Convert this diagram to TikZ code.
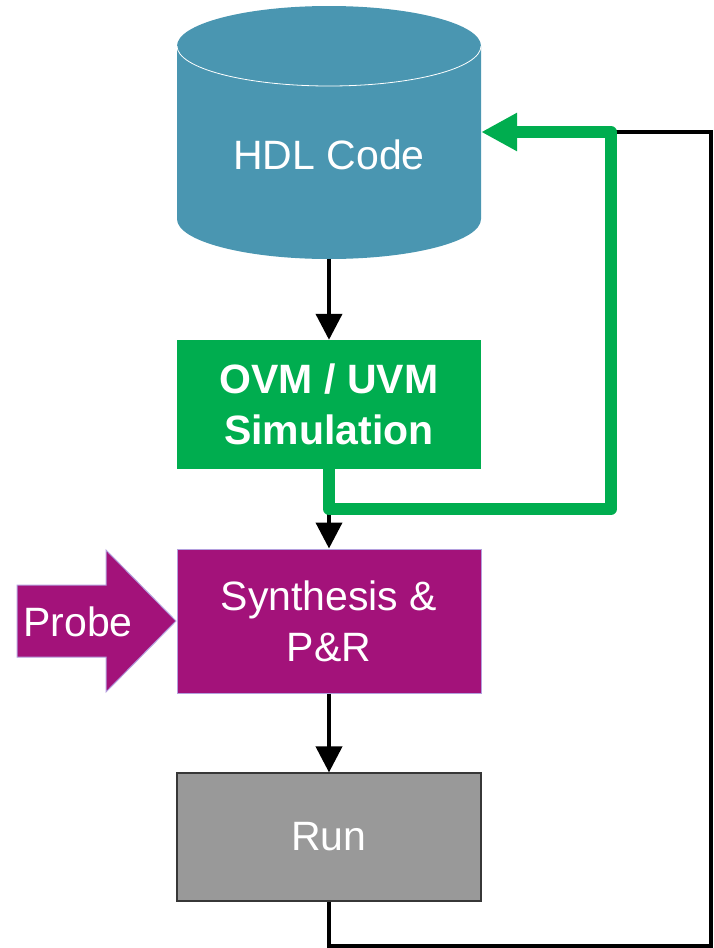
\documentclass[tikz,border=0pt]{standalone}
\usepackage{fontspec}
\setmainfont{Liberation Sans}
\usetikzlibrary{arrows.meta}

\definecolor{hdlblue}{RGB}{74,150,177}
\definecolor{simgreen}{RGB}{0,173,79}
\definecolor{synmagenta}{RGB}{163,18,122}
\definecolor{synedge}{RGB}{180,160,222}
\definecolor{rungray}{RGB}{153,153,153}
\definecolor{runedge}{RGB}{55,55,55}

\tikzset{
  stagebox/.style={minimum width=304pt, inner sep=0pt, align=center,
    font=\fontsize{41}{51}\selectfont, text=white},
  flow/.style={line width=4pt, black,
    -{Triangle[width=26pt,length=26pt]}},
  backloop/.style={line width=4pt, black},
  greenloop/.style={line width=12pt, simgreen, line join=round,
    -{Triangle[width=36pt,length=36pt]}},
}

\begin{document}
\begin{tikzpicture}[x=1pt, y=-1pt]
\useasboundingbox (0,0) rectangle (713,948);

% HDL code store: a cylinder
\node[minimum width=304pt, minimum height=253pt, inner sep=0pt] (hdl) at (329,132) {};
\fill[hdlblue] (177,46) -- (177,219)
  arc[start angle=180, end angle=360, x radius=152pt, y radius=40pt]
  -- (481,46)
  arc[start angle=0, end angle=180, x radius=152pt, y radius=40pt] -- cycle;
\draw[white, line width=0.8pt] (177,46)
  arc[start angle=180, end angle=360, x radius=152pt, y radius=40pt];
\node[stagebox, minimum width=0pt] (hdltext) at (329,155) {HDL Code};

% process stages
\node[stagebox, fill=simgreen, minimum height=129pt,
  font=\fontsize{41}{51}\selectfont\bfseries] (sim) at (329,404.5)
  {OVM / UVM\\Simulation};
\node[stagebox, fill=synmagenta, draw=synedge, line width=1pt,
  minimum height=144pt] (syn) at (329,621) {Synthesis \&\\P\&R};
\node[stagebox, fill=rungray, draw=runedge, line width=1.2pt,
  minimum height=128pt] (run) at (329,837) {Run};

% probe arrow feeding synthesis
\fill[synmagenta, draw=synedge, line width=1pt]
  (17,585) -- (106,585) -- (106,550) -- (176,621) -- (106,692)
  -- (106,657) -- (17,657) -- cycle;
\node[stagebox, minimum width=0pt] (probe) at (78,622) {Probe};

% forward flow
\draw[flow] (hdl.south) -- (sim.north);
\draw[flow] (sim.south) -- (syn.north);
\draw[flow] (syn.south) -- (run.north);

% return path from run
\coordinate (rb) at (711,946);
\coordinate (rt) at (711,132);
\coordinate (gt) at (611,132);
\coordinate (gb) at (611,509);
\coordinate (gl) at (329,509);
\draw[backloop] (run.south) |- (rb) -- (rt) -- (gt);

% simulation feedback to the code
\draw[greenloop] (sim.south) -- (gl) -- (gb) -- (gt) -- (hdl.east);
\end{tikzpicture}
\end{document}
